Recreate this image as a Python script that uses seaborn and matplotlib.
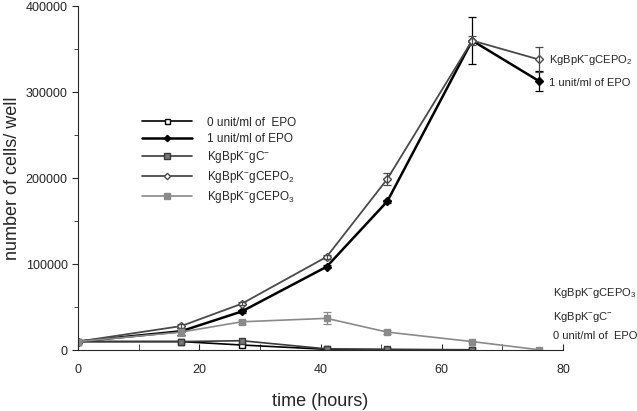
import numpy as np
import pandas as pd
import matplotlib
matplotlib.use("Agg")
import matplotlib.pyplot as plt
import seaborn as sns

# Datos
horas = [0, 17, 27, 41, 51, 65, 76]
horas_sin_epo = [0, 17, 27, 41, 51, 65]

sin_epo = [10000, 10000, 6000, 1000, 500, 300]
gc_menos = [10000, 10000, 11000, 1500, 1000, 500]
con_epo = [10000, 22000, 45000, 97000, 173000, 360000, 313000]
cepo2 = [10000, 28000, 54000, 108500, 199000, 360000, 338000]
cepo3 = [10000, 21000, 33000, 37000, 21000, 10000, 500]

err_con_epo = [0, 4000, 2000, 2000, 2000, 27000, 12000]
err_cepo2 = [0, 2000, 2000, 2000, 7000, 5000, 14000]
err_cepo3 = [0, 4000, 2000, 7000, 2000, 1000, 0]

etiquetas = ["0 unit/ml of  EPO", "1 unit/ml of EPO", "KgBpK$^{-}$gC$^{-}$",
             "KgBpK$^{-}$gCEPO$_{2}$", "KgBpK$^{-}$gCEPO$_{3}$"]

sns.set_style("ticks")
plt.rcParams["font.family"] = ["Liberation Sans", "DejaVu Sans"]
plt.rcParams["mathtext.default"] = "regular"

fig = plt.figure(figsize=(6.37, 4.11), dpi=100)
ax = fig.add_axes([0.1225, 0.148, 0.7615, 0.837])

series = [
    (horas_sin_epo, sin_epo, None, "black", "s", "white", 1.2, 4.5),
    (horas, con_epo, err_con_epo, "black", "D", "black", 1.8, 4),
    (horas_sin_epo, gc_menos, None, "#3a3a3a", "s", "#777777", 1.2, 5),
    (horas, cepo2, err_cepo2, "#4a4a4a", "D", "white", 1.3, 4),
    (horas, cepo3, err_cepo3, "#8a8a8a", "s", "#8a8a8a", 1.2, 5),
]

for (x, y, err, color, marker, cara, grosor, tam), etiqueta in zip(series, etiquetas):
    sns.lineplot(x=x, y=y, ax=ax, color=color, marker=marker, markerfacecolor=cara,
                 markeredgecolor=color, markersize=tam, linewidth=grosor,
                 markeredgewidth=1, label=etiqueta)
    if err is not None:
        ax.errorbar(x, y, yerr=err, fmt="none", ecolor=color, elinewidth=0.9,
                    capsize=3, capthick=0.9)

ax.set_xlim(0, 80)
ax.set_ylim(0, 400000)
ax.set_xticks([0, 20, 40, 60, 80])
ax.set_xticks(np.arange(0, 81, 10), minor=True)
ax.set_yticks([0, 100000, 200000, 300000, 400000])
ax.set_yticks(np.arange(0, 400001, 50000), minor=True)
ax.tick_params(axis="x", direction="in", labelsize=9, length=4)
ax.tick_params(axis="x", which="minor", direction="in", length=4)
ax.tick_params(axis="y", direction="out", labelsize=9, length=4)
ax.tick_params(axis="y", which="minor", direction="out", length=3)
ax.tick_params(axis="x", pad=10)
sns.despine(ax=ax)

ax.set_xlabel("time (hours)", fontsize=13, labelpad=12)
ax.set_ylabel("number of cells/ well", fontsize=13, labelpad=3)

# Etiquetas a la derecha de las curvas
ax.text(77.6, 337000, "KgBpK$^{-}$gCEPO$_{2}$", fontsize=8, va="center", clip_on=False)
ax.text(77.6, 311000, "1 unit/ml of EPO", fontsize=8, va="center", clip_on=False)
ax.text(78.4, 66000, "KgBpK$^{-}$gCEPO$_{3}$", fontsize=8, va="center", clip_on=False)
ax.text(78.4, 38000, "KgBpK$^{-}$gC$^{-}$", fontsize=8, va="center", clip_on=False)
ax.text(78.4, 16000, "0 unit/ml of  EPO", fontsize=8, va="center", clip_on=False)

ax.legend(loc="upper left", bbox_to_anchor=(0.11, 0.71), frameon=False,
          fontsize=8.5, handlelength=4.2, handletextpad=1.3, labelspacing=0.35,
          markerscale=0.8)

plt.savefig("out.png", dpi=100)
